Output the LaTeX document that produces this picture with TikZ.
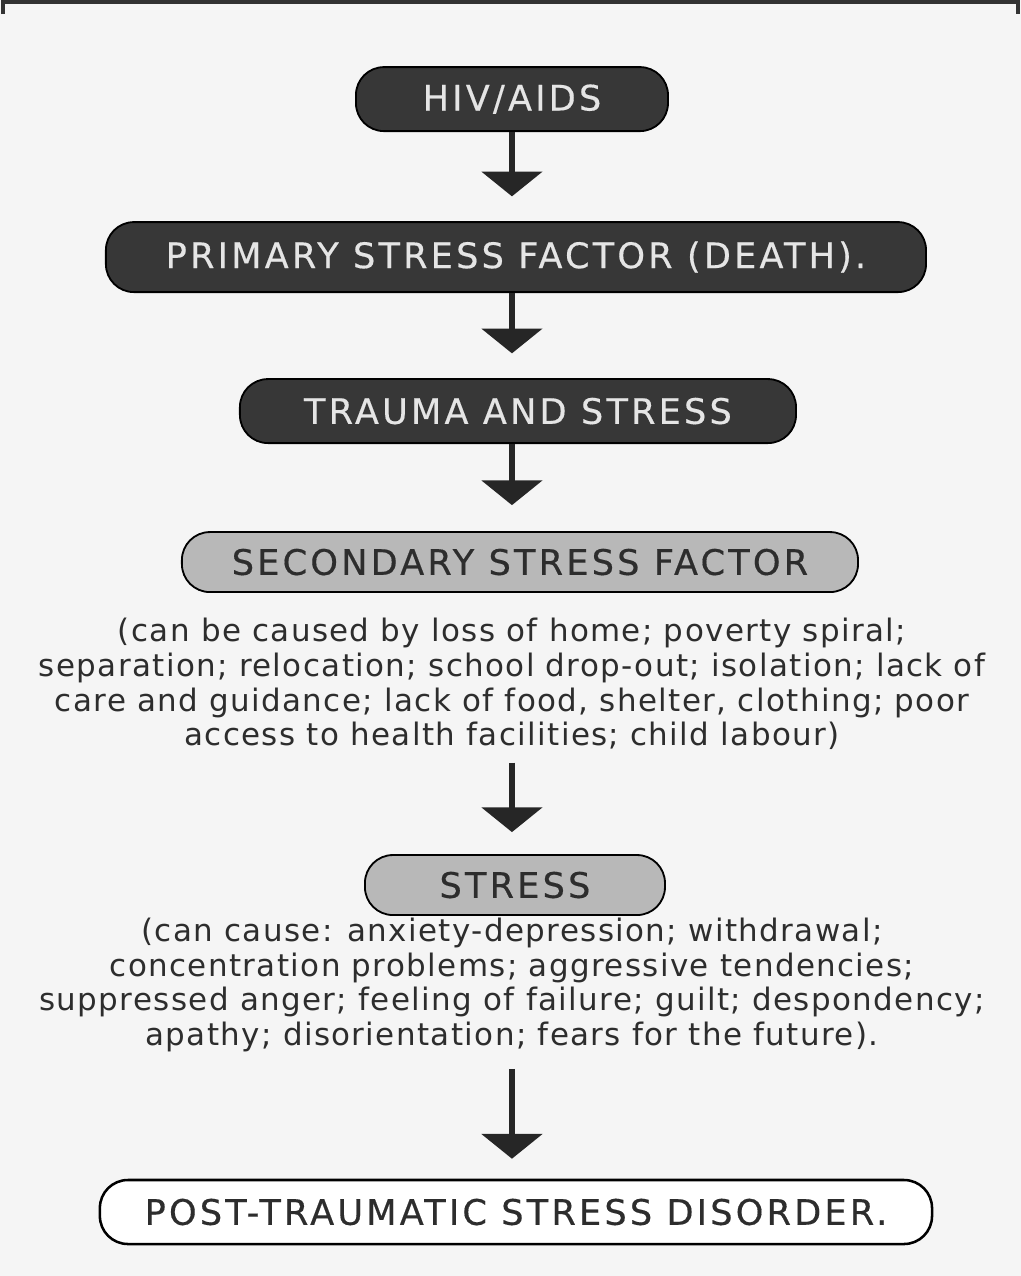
\documentclass[tikz,border=0pt]{standalone}
\usepackage{fontspec}
\setmainfont{DejaVu Sans}
\newfontfamily\pillfont[LetterSpace=9, FakeBold=0.4]{DejaVu Sans}
\newfontfamily\notefont[LetterSpace=4.5]{DejaVu Sans}
\usetikzlibrary{arrows.meta, positioning}
\definecolor{boxdark}{RGB}{55,55,55}
\definecolor{boxgrey}{RGB}{184,184,184}
\definecolor{inkgrey}{RGB}{45,45,45}
\definecolor{paper}{RGB}{245,245,245}

\begin{document}
\begin{tikzpicture}[
    x=0.025cm, y=-0.025cm,
    every node/.style={font=\pillfont\fontsize{25}{28}\selectfont},
    pill/.style={rectangle, rounded corners=0.7cm, draw=black, line width=1.3pt, minimum height=1.6cm, align=center},
    darkpill/.style={pill, fill=boxdark, text=white!90!black},
    greypill/.style={pill, fill=boxgrey, text=inkgrey},
    whitepill/.style={pill, fill=white, text=inkgrey, line width=1.8pt},
    note/.style={align=center, text=inkgrey, font=\notefont\fontsize{22}{24.6}\selectfont},
    flow/.style={-{Triangle[width=1.5cm, length=0.62cm]}, line width=4.3pt, black!85}
]

% paper and the top edge of the frame
\fill[paper] (0,0) rectangle (1021,1276);
\draw[line width=3pt, black!80] (3,14) -- (3,2) -- (1018,2) -- (1018,14);

\node[darkpill, minimum width=7.8cm] (hiv) at (512,99) {HIV/AIDS};
\node[darkpill, minimum width=20.5cm, minimum height=1.75cm] (primary) at (516,257) {PRIMARY STRESS FACTOR (DEATH).};
\node[darkpill, minimum width=13.9cm] (trauma) at (518,411) {TRAUMA AND STRESS};
\node[greypill, minimum width=16.9cm, minimum height=1.5cm] (secondary) at (520,562) {SECONDARY STRESS FACTOR};
\node[note] (causes) at (512,684) {(can be caused by loss of home; poverty spiral;\\
    separation; relocation; school drop-out; isolation; lack of\\
    care and guidance; lack of food, shelter, clothing; poor\\
    access to health facilities; child labour)};
\node[greypill, minimum width=7.5cm, minimum height=1.5cm] (stress) at (515,885) {STRESS};
\node[note] (effects) at (512,985) {(can cause: anxiety-depression; withdrawal;\\
    concentration problems; aggressive tendencies;\\
    suppressed anger; feeling of failure; guilt; despondency;\\
    apathy; disorientation; fears for the future).};
\node[whitepill, minimum width=20.8cm] (ptsd) at (516,1212) {POST-TRAUMATIC STRESS DISORDER.};

% arrows straight down the middle
\draw[flow, shorten >=0.62cm] (hiv.south) -- (hiv.south |- primary.north);
\draw[flow, shorten >=0.62cm] (primary.south -| hiv.south) -- (hiv.south |- trauma.north);
\draw[flow, shorten >=0.65cm] (trauma.south -| hiv.south) -- (hiv.south |- secondary.north);
\draw[flow, shorten <=0.2cm, shorten >=0.55cm] (causes.south -| hiv.south) -- (hiv.south |- stress.north);
\draw[flow, shorten <=0.3cm, shorten >=0.5cm] (effects.south -| hiv.south) -- (hiv.south |- ptsd.north);

\end{tikzpicture}
\end{document}
